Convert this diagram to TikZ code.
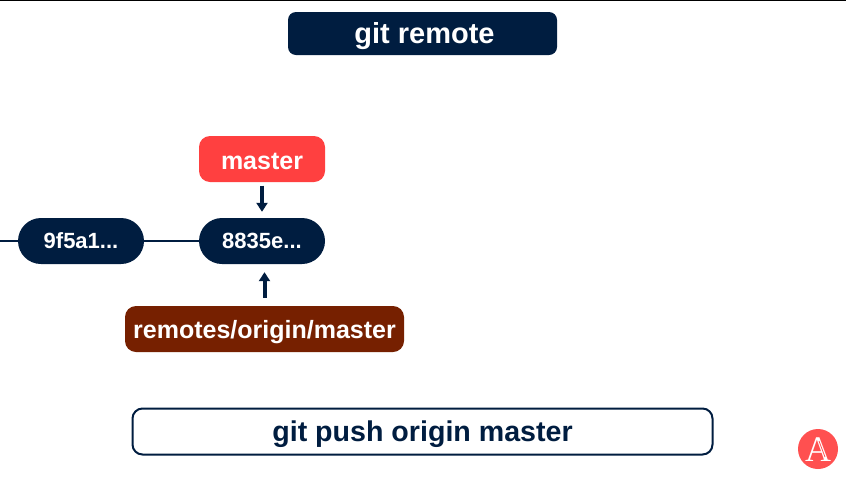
\documentclass[tikz,border=0pt]{standalone}
\usepackage{fontspec}
\setmainfont{Liberation Sans}
\newfontfamily\logofont{Liberation Serif}
\usetikzlibrary{arrows.meta}
\definecolor{navy}{HTML}{001D40}
\definecolor{redbranch}{HTML}{FF4040}
\definecolor{brownbranch}{HTML}{762000}
\definecolor{logored}{HTML}{FF5050}

\begin{document}
\begin{tikzpicture}[x=1pt,y=-1pt]
\tikzstyle{title}=[rectangle,rounded corners=8pt,fill=navy,text=white,font=\fontsize{29}{29}\selectfont\bfseries,text height=19pt,text depth=0pt,minimum width=269pt,minimum height=43pt,inner sep=0pt]
\tikzstyle{command}=[rectangle,rounded corners=10pt,draw=navy,line width=2pt,fill=white,text=navy,font=\fontsize{28.6}{29}\selectfont\bfseries,text height=19pt,text depth=0pt,minimum width=580pt,minimum height=46pt,inner sep=0pt]
\tikzstyle{commit}=[rectangle,rounded corners=23pt,fill=navy,text=white,font=\fontsize{22}{22}\selectfont\bfseries,text height=15pt,text depth=0pt,minimum width=126pt,minimum height=46pt,inner sep=0pt]
\tikzstyle{branch}=[rectangle,rounded corners=11pt,text=white,font=\fontsize{25}{25}\selectfont\bfseries,text height=18pt,text depth=0pt,minimum height=46pt,inner sep=0pt]
\tikzstyle{pointer}=[navy,line width=4pt,-{Triangle[length=9pt,width=11pt]}]
\useasboundingbox (0,0) rectangle (846,480);
\fill [white] (0,0) rectangle (846,480);
\coordinate (topleft) at (0,0.7);
\coordinate (topright) at (846,0.7);
\draw [black,line width=1.4pt] (topleft) -- (topright);
\node [title] (gitremote) at (422.5,33.5) {\hspace{4pt}git remote};
\node [commit] (parent) at (81,241) {9f5a1...};
\node [commit] (head) at (262,241) {8835e...};
\node [branch,fill=redbranch,minimum width=126pt,text height=20pt] (master) at (262,159) {master};
\node [branch,fill=brownbranch,minimum width=279pt] (origin) at (264.5,329) {remotes/origin/master};
\node [command] (gitpush) at (422.5,431.5) {git push origin master};
\node [circle,fill=logored,text=white,minimum size=40pt,inner sep=0pt,font=\fontsize{36}{36}\selectfont\logofont,text height=24pt,text depth=0pt] (logo) at (818,449) {A};
\draw [logored,line width=0.8pt] ([shift={(1,-8)}]logo.center) -- ([shift={(7,8)}]logo.center);
\coordinate (history) at (0,241);
\draw [navy,line width=2pt] (history) -- (parent);
\draw [navy,line width=2pt] (parent) -- (head);
\draw [pointer,shorten <=3.5pt,shorten >=6pt] (master) -- (head);
\draw [pointer,shorten <=8pt,shorten >=8pt] (origin.north) -- (head.south -| origin.north);
\end{tikzpicture}
\end{document}
